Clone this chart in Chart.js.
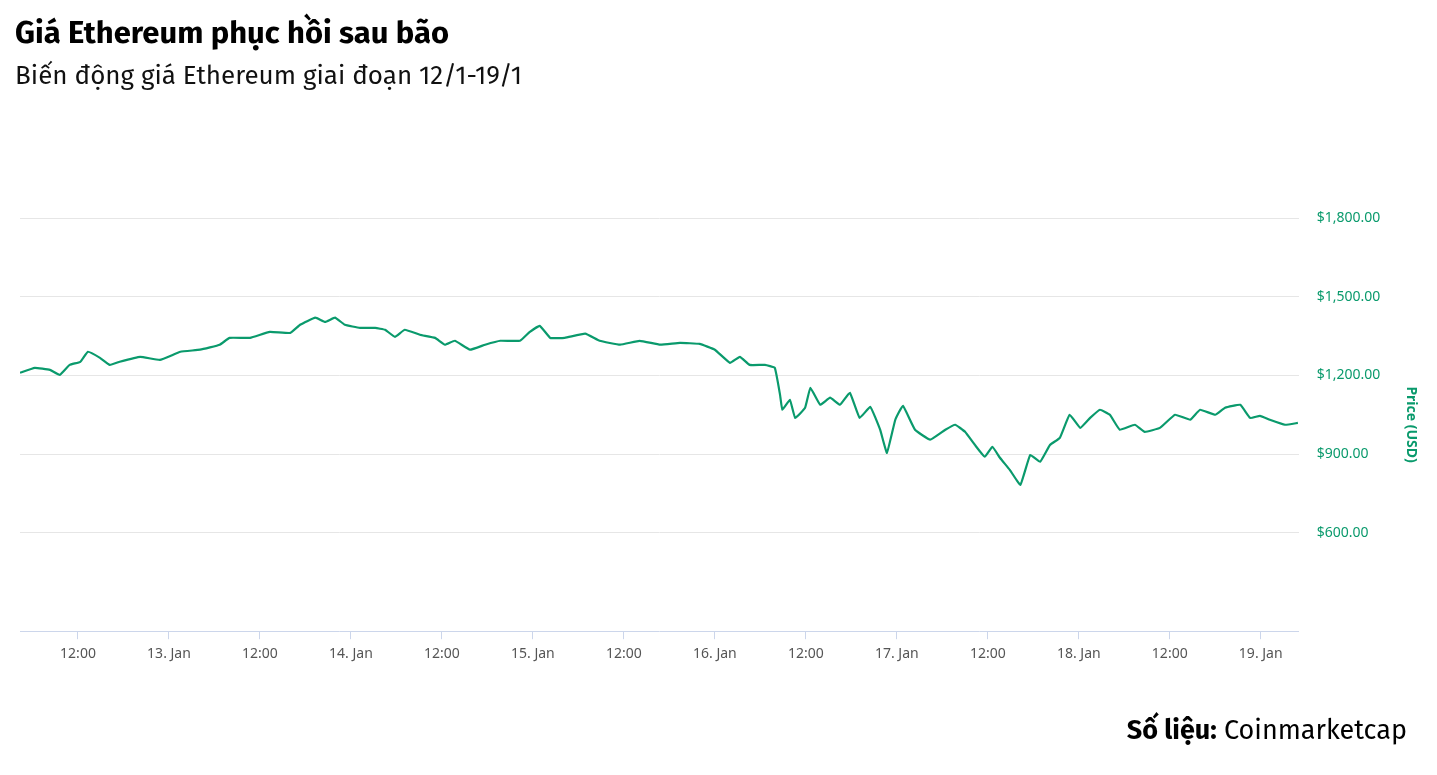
<!DOCTYPE html>
<html><head><meta charset="utf-8">
<script src="https://cdn.jsdelivr.net/npm/chart.js@4"></script>
<style>
html,body{margin:0;padding:0;background:#fff;width:1437px;height:775px;overflow:hidden;font-family:"Fira Sans","Noto Sans",sans-serif}
#t{position:absolute;left:15px;top:14px;font-size:31px;font-weight:bold;color:#000}
#s{position:absolute;left:15px;top:60px;font-size:26px;color:#111}
#f{position:absolute;right:30px;top:714px;font-size:27px;color:#000}
#w{position:absolute;left:0;top:0;width:1437px;height:775px}
</style></head><body>
<div id="w"><canvas id="c"></canvas></div>
<div id="t">Giá Ethereum phục hồi sau bão</div>
<div id="s">Biến động giá Ethereum giai đoạn 12/1-19/1</div>
<div id="f"><b>Số liệu:</b> Coinmarketcap</div>
<script>
// hours since 12 Jan 00:00
const hours = [4.35,6.3,8.3,9.6,10.9,12.3,13.3,14.9,16.2,17.5,20.2,22.8,25.5,28.1,30.7,32.0,34.7,37.3,40.0,41.3,43.3,44.6,45.9,47.2,49.2,51.2,52.5,53.8,55.1,57.1,59.1,60.4,61.7,63.7,65.7,67.7,70.3,71.6,72.9,74.3,76.2,78.9,80.8,83.5,86.1,88.8,91.4,94.0,96.0,98.0,99.3,100.6,102.6,103.9,104.6,104.9,105.9,106.6,107.9,108.6,109.9,111.2,112.5,113.8,115.1,116.5,117.8,118.7,119.8,120.8,122.4,124.4,126.4,127.7,129.0,130.3,131.6,132.6,133.6,134.9,136.3,137.6,138.9,140.2,141.5,142.8,144.2,145.5,146.8,148.1,149.4,151.4,152.7,154.7,156.7,158.7,160.0,162.0,163.3,165.3,166.6,167.9,169.2,171.2,172.9];
const prices = [1210,1229,1221,1202,1240,1252,1290,1267,1240,1252,1271,1259,1290,1298,1317,1343,1343,1366,1362,1393,1420,1404,1420,1393,1381,1381,1374,1347,1374,1355,1343,1317,1332,1298,1317,1332,1332,1366,1389,1343,1343,1359,1332,1317,1332,1317,1324,1320,1298,1248,1271,1240,1240,1229,1126,1069,1107,1038,1077,1153,1088,1115,1088,1134,1038,1080,993,905,1031,1084,993,955,993,1012,985,935,890,928,886,840,783,897,871,935,962,1050,1000,1038,1069,1050,993,1012,985,1000,1050,1031,1069,1050,1077,1088,1038,1046,1031,1012,1019];
const xTicks = [12,24,36,48,60,72,84,96,108,120,132,144,156,168];
const yTicks = [600,900,1200,1500,1800];
const green = '#0a9a6c';
new Chart(document.getElementById('c'), {
  type:'line',
  data:{datasets:[{data:hours.map((h,i)=>({x:h,y:prices[i]})),borderColor:green,borderWidth:2.2,pointRadius:0,tension:0.1,fill:false}]},
  options:{
    responsive:true,maintainAspectRatio:false,animation:false,
    layout:{padding:{top:218,bottom:107,left:20,right:14}},
    plugins:{legend:{display:false},tooltip:{enabled:false}},
    scales:{
      x:{type:'linear',min:4.35,max:173,
        afterBuildTicks:a=>{a.ticks=xTicks.map(v=>({value:v}));},
        ticks:{autoSkip:false,maxRotation:0,color:'#555',font:{family:'Noto Sans',size:14},padding:6,
          callback:v=>v%24===0?(v/24+12)+'. Jan':'12:00'},
        grid:{display:true,drawOnChartArea:false,drawTicks:true,tickLength:8,color:'#ccd6eb'},
        border:{color:'#ccd6eb'}},
      y:{position:'right',min:225,max:1800,
        afterBuildTicks:a=>{a.ticks=yTicks.map(v=>({value:v}));},
        ticks:{color:green,font:{family:'Noto Sans',size:14},padding:18,
          callback:v=>'$'+v.toLocaleString('en-US',{minimumFractionDigits:2})},
        grid:{color:'#e6e6e6',drawTicks:false},border:{display:false},
        title:{display:true,text:'Price (USD)',color:green,font:{family:'Noto Sans',size:14,weight:'bold'}}}
    }
  }
});
</script>
</body></html>
